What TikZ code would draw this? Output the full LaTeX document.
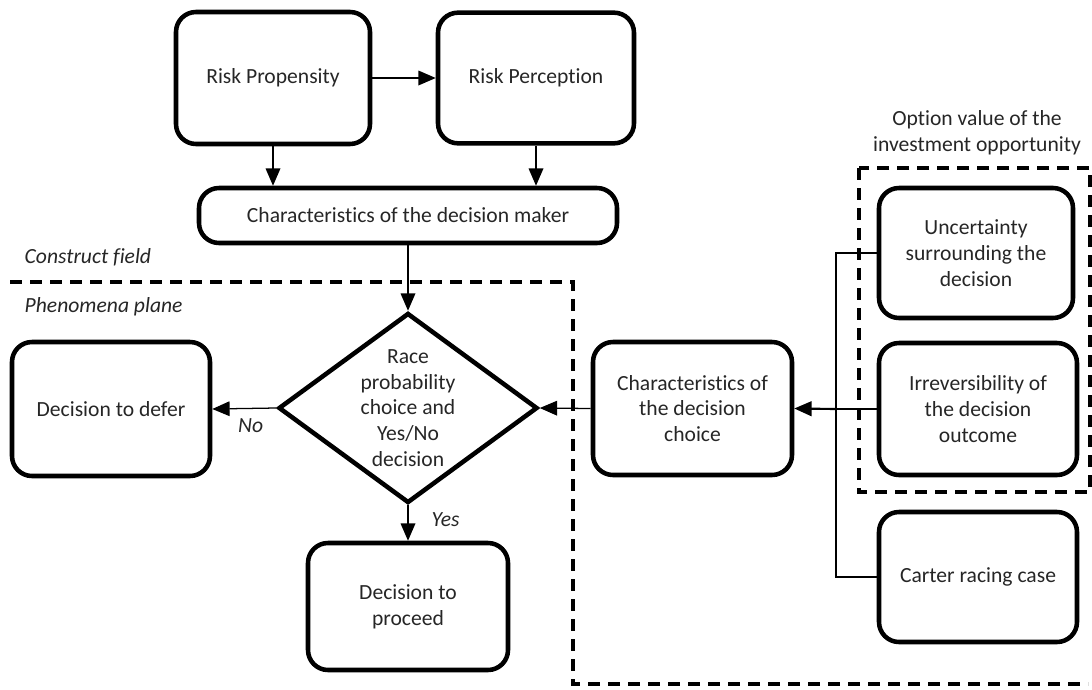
\documentclass[tikz,border=0pt]{standalone}
\usepackage{fontspec}
\setmainfont{Carlito}[Ligatures={NoCommon}]
\usetikzlibrary{shapes.geometric,arrows.meta}
\begin{document}
\begin{tikzpicture}[x=0.75pt,y=-0.75pt,
  every node/.style={text=black!85,font=\fontsize{16.2}{19.3}\selectfont},
  rbox/.style={draw=black,line width=3.4pt,rounded corners=15pt,align=center,inner sep=2pt},
  link/.style={line width=0.95pt,-{Triangle[length=13pt,width=11pt]}},
  wire/.style={line width=0.95pt},
  region/.style={line width=2.5pt,dash pattern=on 9pt off 6pt},
  tag/.style={font=\fontsize{16.2}{19.3}\selectfont\itshape}]
\useasboundingbox (0,0) rectangle (1092,689);

% construct field
\node[rbox,minimum width=145.5pt,minimum height=99pt] (rprop) at (273,78) {Risk Propensity};
\node[rbox,minimum width=147pt,minimum height=98pt] (rperc) at (536,78) {Risk Perception};
\node[rbox,minimum width=313.5pt,minimum height=41.25pt] (maker) at (408,215.5) {Characteristics of the decision maker};

% phenomena plane: decision diamond with its text set on top
\node[draw=black,line width=3.4pt,diamond,minimum width=194.25pt,minimum height=142.5pt,inner sep=0pt] (race) at (408,408) {};
\node[align=center] (racetext) at (race.center) {Race\\probability\\choice and\\Yes/No\\decision};
\node[rbox,minimum width=148.5pt,minimum height=100.5pt] (defer) at (111,409) {Decision to defer};
\node[rbox,minimum width=150pt,minimum height=95.25pt] (proceed) at (408,606.5) {Decision to\\proceed};
\node[rbox,minimum width=149.25pt,minimum height=99.75pt] (choice) at (692.5,408.5) {Characteristics of\\the decision\\choice};

% option value
\node[rbox,minimum width=145.5pt,minimum height=97.5pt] (uncert) at (976,253) {Uncertainty\\surrounding the\\decision};
\node[rbox,minimum width=148.5pt,minimum height=99pt] (irrev) at (978,409) {Irreversibility of\\the decision\\outcome};
\node[rbox,minimum width=148.5pt,minimum height=97.5pt] (carter) at (978,577) {Carter racing case};
\node[align=center] (optlabel) at (977,133) {Option value of the\\investment opportunity};

% labels
\node[tag,anchor=west] (cf) at (20,257) {Construct field};
\node[tag,anchor=west] (pp) at (20,307) {Phenomena plane};

% frames
\coordinate (f1) at (10,282);
\coordinate (f2) at (573,282);
\coordinate (f3) at (573,684);
\coordinate (f4) at (1088,684);
\draw[region] (f1) -- (f2) -- (f3) -- (f4);
\coordinate (o1) at (859,168);
\coordinate (o2) at (1090,492);
\draw[region] (o1) rectangle (o2);

% connectors
\draw[link] (rprop) -- (rperc);
\draw[link] (rprop.south) -- (rprop.south |- maker.north);
\draw[link] (rperc.south) -- (rperc.south |- maker.north);
\draw[link] (maker) -- (race.north);
\draw[link] (race.west) -- node[tag,below=4pt,pos=0.4] (no) {No} (defer.east);
\draw[link] (race.south) -- node[tag,right,pos=0.4,xshift=14pt] (yes) {Yes} (proceed.north);
\draw[link] (choice.west) -- (race.east);
\coordinate (bus) at (836,409);
\draw[wire] (uncert.west) -| (bus) |- (carter.west);
\draw[wire] (irrev.west) -- (bus);
\draw[link,line width=1.6pt] (bus) -- (choice.east);
\end{tikzpicture}
\end{document}
